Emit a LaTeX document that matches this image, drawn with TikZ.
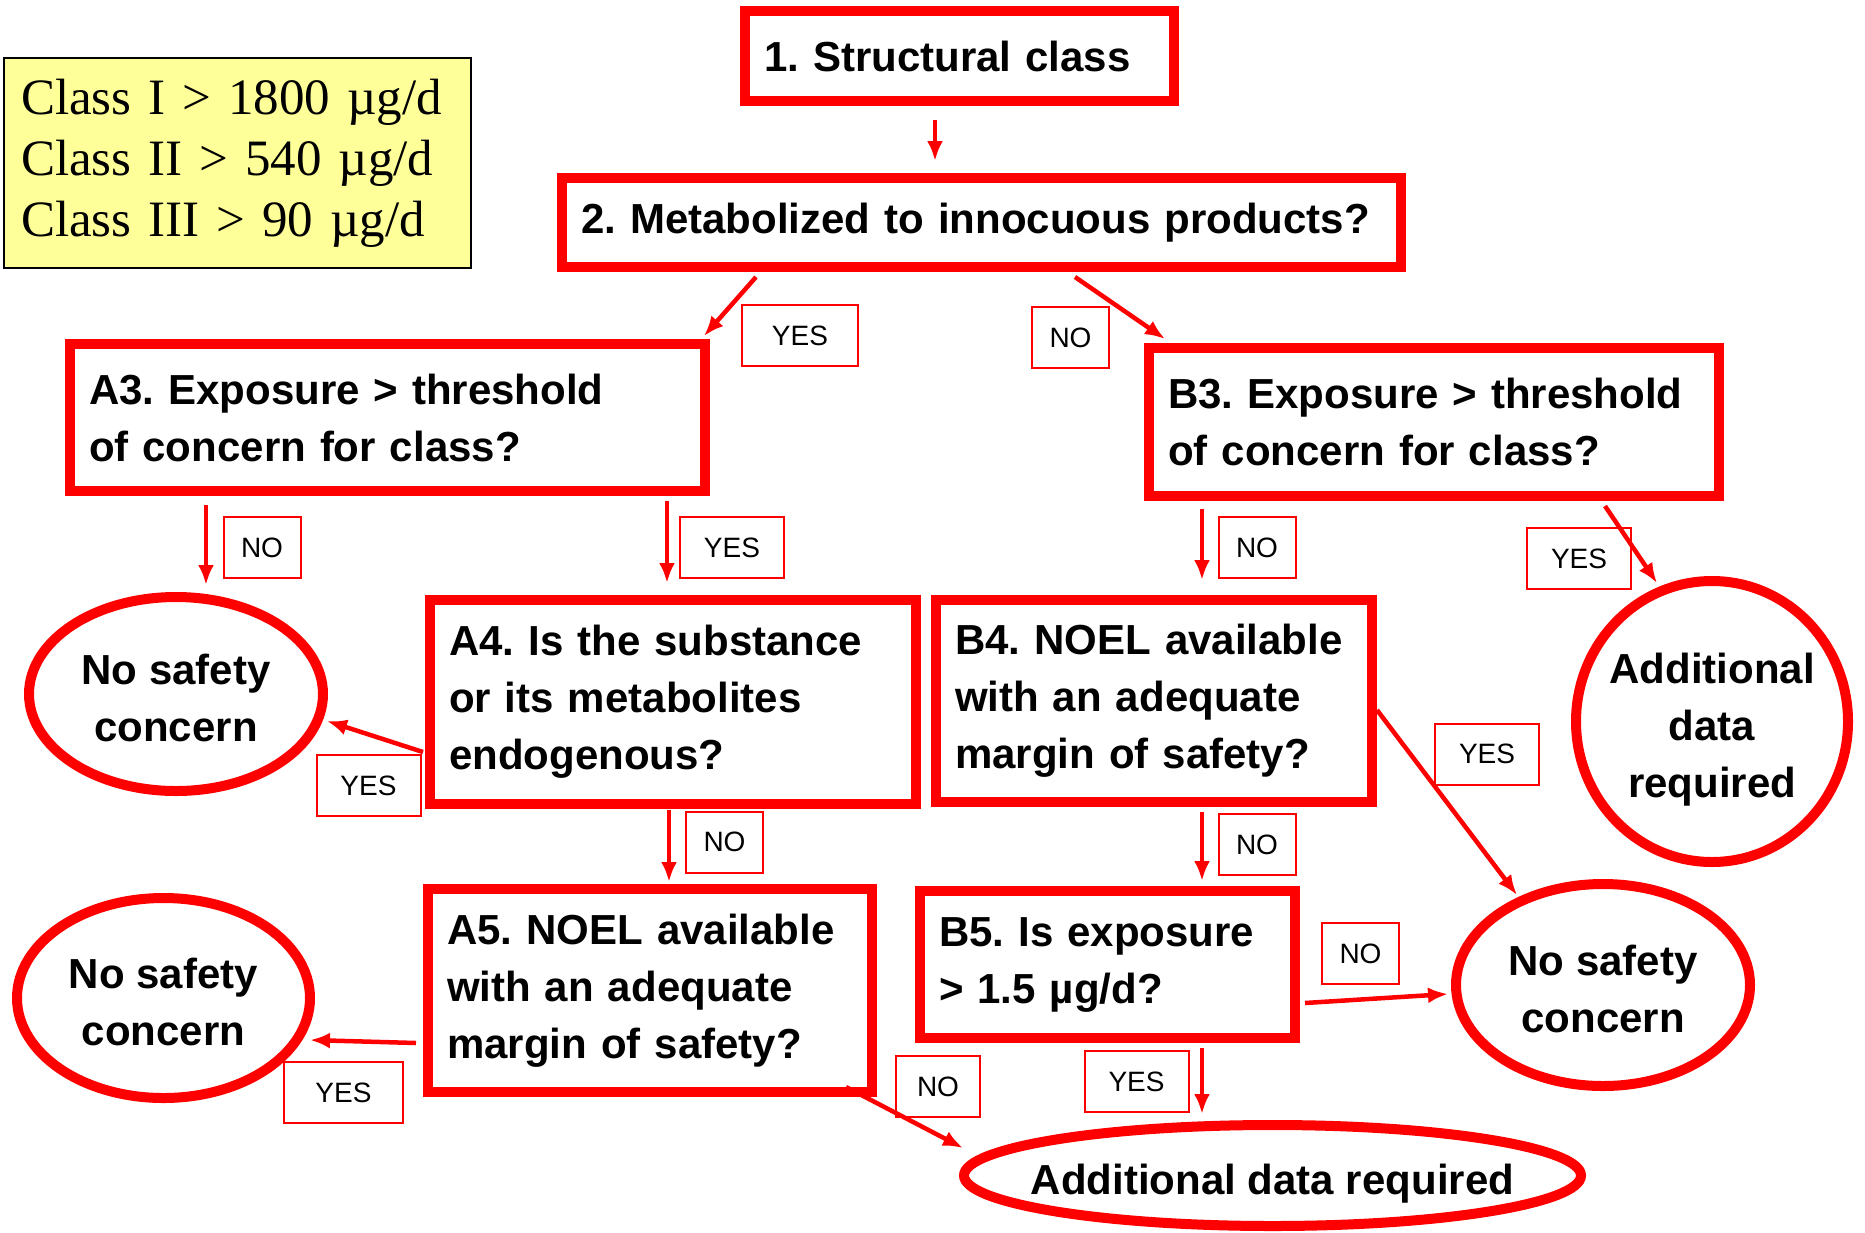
\documentclass[tikz,border=0pt]{standalone}
\usepackage{fontspec}
\setmainfont{Liberation Sans}
\newfontfamily\timesfont{Liberation Serif}
\usepackage{xcolor}
\usetikzlibrary{arrows.meta, calc, shapes.geometric}
\frenchspacing
\definecolor{flowred}{RGB}{255,0,0}
\definecolor{notepad}{RGB}{255,255,153}
\newcommand{\outtext}[1]{\raisebox{-14pt}[0pt][0pt]{\makebox[0pt]{\begin{tabular}{@{}c@{}}#1\end{tabular}}}}
\tikzset{
  % Graph arrow style
  garr/.style={
    draw=flowred, line width=4.5pt, -{Latex[length=20pt,width=16pt]}
  },
}

\begin{document}
\begin{tikzpicture}
          [x=1pt, y=-1pt
          , qbox/.style={draw=flowred, line width=10pt, outer sep=0pt, inner xsep=19pt, inner ysep=0pt, align=left, font=\fontsize{42}{57}\selectfont\bfseries}
          , outc/.style={ellipse, draw=flowred, line width=10pt, outer sep=0pt, inner sep=0pt, font=\fontsize{42}{57}\selectfont\bfseries}
          , tag/.style={draw=flowred, line width=2pt, outer sep=0pt, inner xsep=0pt, minimum height=61pt, font=\fontsize{28}{34}\selectfont}
          , ytag/.style={tag, minimum width=104pt}
          , ntag/.style={tag, minimum width=77pt}
          ]
          \useasboundingbox (0,0) rectangle (1865,1232);

          % thresholds
          \node (classes) [draw=black, line width=2pt, fill=notepad
                          , text width=433pt, inner xsep=17pt, minimum height=210pt
                          , align=left, font=\timesfont\fontsize{51}{61}\selectfont
                          ] at (237.5,163)
                          {Class I > 1800 µg/d\\Class II > 540 µg/d\\Class III > 90 µg/d};

          % questions
          \node (struct) [qbox, text width=391pt, minimum height=90pt] at (959.5,56) {1. Structural class};
          \node (metab) [qbox, text width=801pt, minimum height=89pt] at (981.5,222.5) {2. Metabolized to innocuous products?};
          \node (a3) [qbox, text width=597pt, minimum height=147pt] at (387.5,417.5) {A3. Exposure > threshold\\of concern for class?};
          \node (b3) [qbox, text width=532pt, minimum height=148pt] at (1434,422) {B3. Exposure > threshold\\of concern for class?};
          \node (a4) [qbox, text width=448pt, minimum height=204pt] at (673,702) {A4. Is the substance\\or its metabolites\\endogenous?};
          \node (b4) [qbox, text width=398pt, minimum height=202pt] at (1154,701) {B4. NOEL available\\with an adequate\\margin of safety?};
          \node (a5) [qbox, text width=406pt, minimum height=203pt] at (650,990.5) {A5. NOEL available\\with an adequate\\margin of safety?};
          \node (b5) [qbox, text width=337pt, minimum height=147pt] at (1107.5,964.5) {B5. Is exposure\\> 1.5 µg/d?};

          % outcomes
          \node (safeA) [outc, minimum width=294pt, minimum height=194pt] at (176,694) {\outtext{No safety\\concern}};
          \node (safeB) [outc, minimum width=293pt, minimum height=200pt] at (163.5,998) {\outtext{No safety\\concern}};
          \node (safeC) [outc, minimum width=294pt, minimum height=202pt] at (1603,985) {\outtext{No safety\\concern}};
          \node (moreA) [outc, minimum width=272pt, minimum height=281pt] at (1712,721.5) {\outtext{Additional\\data\\required}};
          \node (moreB) [outc, minimum width=617pt, minimum height=101pt] at (1272.5,1175.5) {\outtext{Additional data required}};

          % answers
          \node (t1) [ytag, minimum width=116pt] at (800,335.5) {YES};
          \node (t2) [ntag] at (1070.5,337.5) {NO};
          \node (t3) [ntag] at (262,547.5) {NO};
          \node (t4) [ytag] at (732,547.5) {YES};
          \node (t5) [ntag] at (1257,547.5) {NO};
          \node (t6) [ytag] at (1579,558.5) {YES};
          \node (t7) [ytag] at (368.5,785.5) {YES};
          \node (t8) [ntag] at (724.5,842) {NO};
          \node (t9) [ntag] at (1257,844.5) {NO};
          \node (t10) [ytag] at (1487,754) {YES};
          \node (t11) [ytag, minimum width=119pt] at (343.5,1092.5) {YES};
          \node (t12) [ntag, minimum width=84pt] at (938,1086.5) {NO};
          \node (t13) [ntag] at (1360.5,953.5) {NO};
          \node (t14) [ytag] at (1136.5,1081.5) {YES};

          \draw[garr] ($(struct.south)+(-24.5,19)$) -- ($(metab.north)+(-46.5,-17)$);
          \draw[garr] ($(metab.south)+(-225.5,10)$) -- ($(a3.north east)+(-1,-8)$);
          \draw[garr] ($(metab.south)+(93.5,10)$) -- ($(b3.north west)+(16,-9)$);
          \draw[garr] ($(a3.south)+(-181.5,14)$) -- ($(safeA.north)+(30,-12)$);
          \draw[garr] ($(a3.south)+(279.5,10)$) -- ($(a4.north)+(-6,-17)$);
          \draw[garr] ($(b3.south)+(-232,13)$) -- ($(b4.north)+(48,-20)$);
          \draw[garr] ($(b3.south)+(171,10)$) -- ($(moreA.north)+(-55,2)$);
          \draw[garr] ($(a4.west)+(-7,50)$) -- ($(safeA.east)+(4,27)$);
          \draw[garr] ($(a4.south)+(-4,6)$) -- ($(a5.north)+(19,-7)$);
          \draw[garr] ($(b4.south)+(48,10)$) -- ($(b5.north)+(94.5,-10)$);
          \draw[garr] ($(b4.east)+(5,9)$) -- ($(safeC.north)+(-86,11)$);
          \draw[garr] ($(a5.west)+(-12,52.5)$) -- ($(safeB.east)+(0,42)$);
          \draw[garr] ($(a5.south east)+(-26,-5)$) -- ($(moreB.west)+(-1,-27.5)$);
          \draw[garr] ($(b5.east)+(10,38.5)$) -- ($(safeC.west)+(-8,9)$);
          \draw[garr] ($(b5.south)+(94.5,10)$) -- ($(moreB.north)+(-70.5,-11)$);
      \end{tikzpicture}
\end{document}
